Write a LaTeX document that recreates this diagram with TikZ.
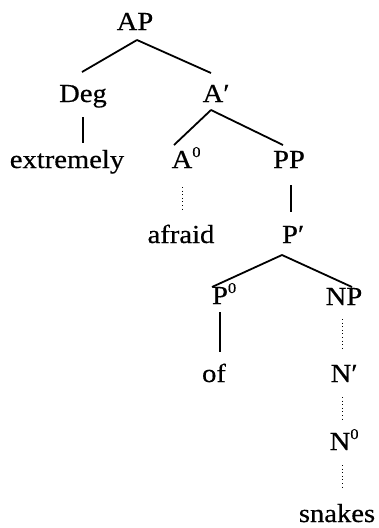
\documentclass[tikz,border=0pt]{standalone}
\usepackage{fontspec}
\setmainfont[FakeStretch=1.1,FakeBold=0.5]{Liberation Serif}
\usetikzlibrary{calc}
\begin{document}
\begin{tikzpicture}[x=1pt,y=-1pt,
  lbl/.style={anchor=base,inner sep=0pt,font=\fontsize{26}{30}\selectfont},
  branch/.style={line width=1.8pt},
  dots/.style={line width=1pt,dash pattern=on 1pt off 2.6pt}]
\useasboundingbox (0,0) rectangle (378,528);
% category labels, placed by baseline
\newcommand{\barlvl}{\rlap{′}}
\newcommand{\zerolvl}{\rlap{\raisebox{11pt}{\fontsize{15}{15}\selectfont 0}}}
\node[lbl] (AP) at (135,30) {AP};
\node[lbl] (Deg) at (83,102) {Deg};
\node[lbl] (Abar) at (213,102) {A\barlvl};
\node[lbl] (extremely) at (67,168) {extremely};
\node[lbl] (Azero) at (182,168) {A\zerolvl};
\node[lbl] (PP) at (289,168) {PP};
\node[lbl] (afraid) at (181,243) {afraid};
\node[lbl] (Pbar) at (290,243) {P\barlvl};
\node[lbl] (Pzero) at (220,304) {P\zerolvl};
\node[lbl] (NP) at (344,305) {NP};
\node[lbl] (of) at (214,382) {of};
\node[lbl] (Nbar) at (341,382) {N\barlvl};
\node[lbl] (Nzero) at (340,450) {N\zerolvl};
\node[lbl] (snakes) at (337,522) {snakes};
% branches
\draw[branch] ($(AP.base)+(2,10)$) -- ($(Deg.base)+(-1,-30)$);
\draw[branch] ($(AP.base)+(2,10)$) -- ($(Abar.base)+(-2,-29)$);
\draw[branch] ($(Deg.base)+(0,15)$) -- ($(extremely.base)+(16,-25)$);
\draw[branch] ($(Abar.base)+(-2,8)$) -- ($(Azero.base)+(-8,-23)$);
\draw[branch] ($(Abar.base)+(-2,8)$) -- ($(PP.base)+(-6,-23)$);
\draw[dots] ($(Azero.base)+(0,19)$) -- ($(afraid.base)+(1,-31)$);
\draw[branch] ($(PP.base)+(2,17)$) -- ($(Pbar.base)+(1,-31)$);
\draw[branch] ($(Pbar.base)+(-8,12)$) -- ($(Pzero.base)+(-8,-17)$);
\draw[branch] ($(Pbar.base)+(-8,12)$) -- ($(NP.base)+(8,-18)$);
\draw[branch] ($(Pzero.base)+(0,8)$) -- ($(of.base)+(6,-30)$);
\draw[dots] ($(NP.base)+(-2,14)$) -- ($(Nbar.base)+(1,-32)$);
\draw[dots] ($(Nbar.base)+(1,15)$) -- ($(Nzero.base)+(2,-28)$);
\draw[dots] ($(Nzero.base)+(2,15)$) -- ($(snakes.base)+(5,-32)$);
\end{tikzpicture}
\end{document}
